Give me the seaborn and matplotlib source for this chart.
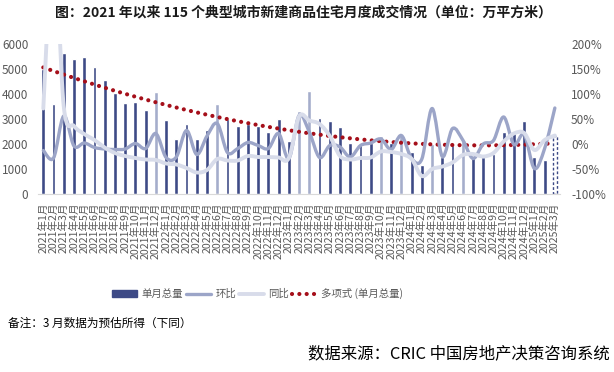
# 115 城新建商品住宅月度成交：柱 + 环比/同比平滑线 + 多项式趋势
import numpy as np
import pandas as pd
import seaborn as sns
import matplotlib.pyplot as plt
from matplotlib.path import Path
from matplotlib.patches import PathPatch, Patch
from matplotlib.lines import Line2D

# ---------------- data ----------------
months = [f"{y}年{m}月" for y in range(2021, 2026) for m in range(1, 13)][:51]

# 单月总量 (万平方米)
volume = [5000, 3600, 5630, 5400, 5480, 5080, 4560, 4050, 3640, 3680, 3360, 4080,
          2960, 2200, 2800, 2200, 2570, 3600, 3000, 2730, 2800, 2730, 2490, 3000,
          2120, 3320, 4120, 3030, 2920, 2680, 2040, 1960, 2030, 2310, 2050, 2400,
          1670, 1160, 1990, 1500, 1960, 2120, 1500, 1500, 1600, 2470, 2450, 2920,
          1480, 1350, 2320]

# 环比 (%)
mom = [-13, -28, 56, -4, 2, -7, -10, -11, -10, 1, -9, 21,
       -27, -26, 27, -21, 16, 41, -17, -9, 3, -3, -9, 21,
       -29, 57, 24, -27, -3, -6, -26, -3, 2, 10, -11, 17,
       -29, -30, 71, -25, 31, 8, -29, 0, 7, 54, -1, 19,
       -49, -9, 72]

# 同比 (%)
yoy = [71, 410, 75, 36, 20, 8, -7, -18, -24, -28, -31, -32,
       -39, -41, -48, -57, -52, -30, -33, -33, -24, -26, -26, -27,
       -28, 55, 47, 40, 16, -24, -31, -28, -27, -15, -16, -20,
       -30, -64, -50, -45, -37, -22, -20, -25, -18, 5, 21, 22,
       -12, 8, 17]

light_idx = [11, 17, 25, 26, 33, 35, 38, 41]

NAVY = "#3D4A86"
LIGHT = "#A5ADCB"
MOM_C = "#9CA5C8"
YOY_C = "#D8DCEA"
TREND_C = "#A50F1A"
GRAY = "#595959"
DOTS = (0, (0.01, 1.75))


def smooth_path(xs, ys):
    # Excel-style smoothed line: Catmull-Rom as cubic Bezier segments
    pts = np.column_stack([xs, ys]).astype(float)
    n = len(pts)
    verts = [pts[0]]
    codes = [Path.MOVETO]
    for i in range(n - 1):
        p0 = pts[max(i - 1, 0)]
        p1 = pts[i]
        p2 = pts[i + 1]
        p3 = pts[min(i + 2, n - 1)]
        verts += [p1 + (p2 - p0) / 6, p2 - (p3 - p1) / 6, p2]
        codes += [Path.CURVE4] * 3
    return Path(verts, codes)


sns.set_theme(style="white")
plt.rcParams["font.family"] = ["Noto Sans CJK SC", "DejaVu Sans"]

fig = plt.figure(figsize=(6.14, 3.72), dpi=100)
ax = fig.add_axes([0.0622, 0.4785, 0.8498, 0.4032])

df = pd.DataFrame({"month": months, "volume": volume})
colors = [LIGHT if i in light_idx else NAVY for i in range(len(months))]
sns.barplot(data=df, x="month", y="volume", hue="month", palette=colors,
            legend=False, width=0.38, saturation=1, errorbar=None, ax=ax)

# 2025年3月 estimated -> dashed outline bar
last = max(ax.patches, key=lambda p: p.get_x())
last.set_facecolor("white")
last.set_edgecolor(NAVY)
last.set_linestyle((0, (2, 1.5)))
last.set_linewidth(1.0)

# polynomial trendline of the bars
sns.regplot(x=np.arange(len(volume)), y=np.array(volume, dtype=float), order=2,
            ci=None, scatter=False, ax=ax,
            line_kws=dict(color=TREND_C, lw=3, linestyle=DOTS, dash_capstyle="round", zorder=5))

ax.set_xlim(-0.5, len(months) - 0.5)
ax.set_ylim(0, 6000)
ax.set_xlabel("")
ax.set_ylabel("")

ax2 = ax.twinx()
ax2.set_ylim(-100, 200)
xs = np.arange(len(months))
ax2.add_patch(PathPatch(smooth_path(xs, mom), fill=False, edgecolor=MOM_C, lw=2.4,
                        capstyle="round", joinstyle="round"))
ax2.add_patch(PathPatch(smooth_path(xs, yoy), fill=False, edgecolor=YOY_C, lw=2.8,
                        capstyle="round", joinstyle="round"))

# axes cosmetics
ax.set_yticks(range(0, 6001, 1000))
ax.tick_params(axis="y", length=0, pad=7, labelsize=8.5, labelcolor=GRAY)
ax2.set_yticks(range(-100, 201, 50))
ax2.set_yticklabels([f"{v}%" for v in range(-100, 201, 50)])
ax2.tick_params(axis="y", length=0, pad=8, labelsize=8.5, labelcolor=GRAY)

ax.tick_params(axis="x", which="major", length=0, pad=6, labelsize=7.6,
               labelcolor=GRAY, labelrotation=90)
ax.set_xticks(np.arange(-0.5, len(months), 1), minor=True)
ax.tick_params(axis="x", which="minor", length=3.5, width=0.8, color="#D9D9D9")

for s in ["top", "left", "right"]:
    ax.spines[s].set_visible(False)
    ax2.spines[s].set_visible(False)
ax2.spines["bottom"].set_visible(False)
ax.spines["bottom"].set_color("#D9D9D9")
ax.spines["bottom"].set_linewidth(0.8)

handles = [
    Patch(facecolor=NAVY, edgecolor=NAVY),
    Line2D([], [], color=MOM_C, lw=2.4),
    Line2D([], [], color=YOY_C, lw=2.8),
    Line2D([], [], color=TREND_C, lw=3, linestyle=DOTS, dash_capstyle="round"),
]
labels = ["单月总量", "环比", "同比", "多项式 (单月总量)"]
fig.legend(handles, labels, loc="center", bbox_to_anchor=(0.42, 0.21), ncol=4,
           frameon=False, fontsize=7.5, handlelength=2.4, handleheight=0.6,
           handletextpad=0.4, columnspacing=0.3, labelcolor=GRAY)

fig.text(0.494, 1 - 13 / 372, "图：2021 年以来 115 个典型城市新建商品住宅月度成交情况（单位：万平方米）",
         ha="center", va="center", fontsize=10, fontweight="bold", color="#1a1a1a")
fig.text(8 / 614, 1 - 323 / 372, "备注：3 月数据为预估所得（下同）",
         ha="left", va="center", fontsize=8.4, color="black")
fig.text(610 / 614, 1 - 354 / 372, "数据来源：CRIC 中国房地产决策咨询系统",
         ha="right", va="center", fontsize=11.8, color="black")

fig.savefig("out.png", dpi=100)
